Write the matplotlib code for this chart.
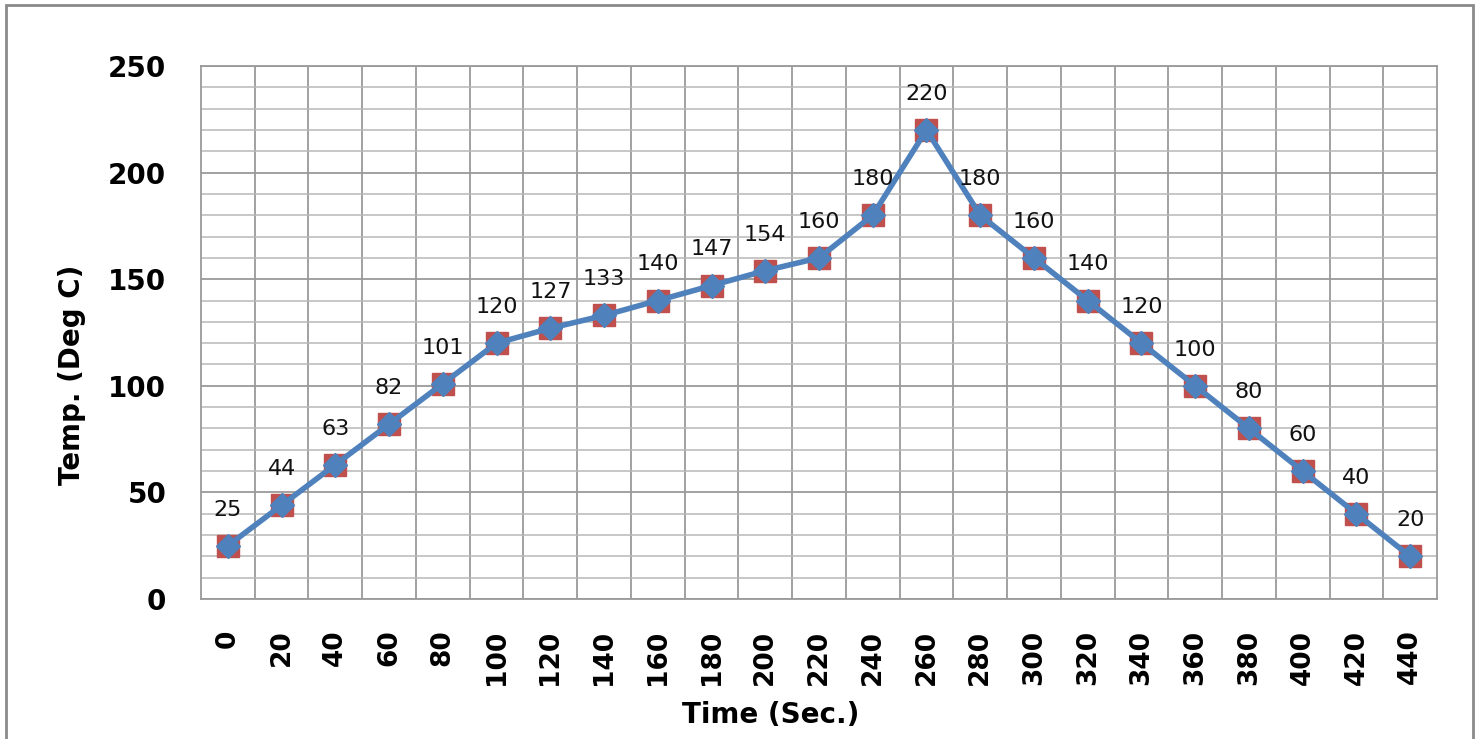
import matplotlib
matplotlib.use("Agg")
import matplotlib.pyplot as plt
from matplotlib.patches import Rectangle
from matplotlib.ticker import MultipleLocator, FixedLocator

time_labels = ["0", "20", "40", "60", "80", "100", "120", "140", "160", "180", "200",
               "220", "240", "260", "280", "300", "320", "340", "360", "380", "400",
               "420", "440"]
temps = [25, 44, 63, 82, 101, 120, 127, 133, 140, 147, 154, 160, 180, 220, 180,
         160, 140, 120, 100, 80, 60, 40, 20]

plt.rcParams['font.family'] = ['DejaVu Sans']

W, H = 1481, 739
fig = plt.figure(figsize=(W / 100, H / 100), dpi=100)
ax = fig.add_axes([201 / W, 1 - 599 / H, (1437 - 201) / W, (599 - 66) / H])

x = list(range(len(temps)))
ax.plot(x, temps, linestyle='none', marker='s', markersize=16,
        markerfacecolor='#C0504D', markeredgecolor='#C0504D', zorder=3)
ax.plot(x, temps, color='#4F81BD', linewidth=4, marker='D', markersize=12,
        markerfacecolor='#4F81BD', markeredgecolor='#4F81BD', zorder=4)

for xi, v in zip(x, temps):
    ax.annotate(str(v), (xi, v), xytext=(0, 26), textcoords='offset points',
                ha='center', va='center', fontsize=16, color='#111111', zorder=5)

ax.set_xlim(-0.5, len(temps) - 0.5)
ax.set_ylim(0, 250)
ax.set_xticks(x)
ax.set_xticklabels(time_labels, rotation=90, fontsize=19, fontweight='bold')
ax.xaxis.set_minor_locator(FixedLocator([i + 0.5 for i in range(len(temps) - 1)]))
ax.yaxis.set_major_locator(MultipleLocator(50))
ax.yaxis.set_minor_locator(MultipleLocator(10))
for lab in ax.get_yticklabels():
    lab.set_fontsize(20)
    lab.set_fontweight('bold')
ax.tick_params(axis='both', which='both', length=0)
ax.tick_params(axis='y', pad=25)
ax.tick_params(axis='x', pad=22)

ax.grid(False, which='major', axis='x')
ax.grid(True, which='minor', axis='x', color='#9a9a9a', linewidth=1.3)
ax.grid(True, which='major', axis='y', color='#9a9a9a', linewidth=1.3)
ax.grid(True, which='minor', axis='y', color='#b8b8b8', linewidth=1.1)
ax.set_axisbelow(True)
for s in ax.spines.values():
    s.set_color('#9a9a9a')
    s.set_linewidth(1.3)

ax.set_ylabel('Temp. (Deg C)', fontsize=20, fontweight='bold')
ax.yaxis.set_label_coords((72 - 201) / (1437 - 201), (599 - 375) / (599 - 66))
ax.yaxis.label.set_va('center')
ax.set_xlabel('Time (Sec.)', fontsize=20, fontweight='bold')
ax.xaxis.set_label_coords((771 - 201) / (1437 - 201), (599 - 715) / (599 - 66))
ax.xaxis.label.set_va('center')

frame = Rectangle((6 / W, -0.05), (1473 - 6) / W, 1.05 - 5 / H, transform=fig.transFigure,
                  fill=False, edgecolor='#8a8a8a', linewidth=2, clip_on=False)
fig.patches.append(frame)

fig.savefig('out.png', dpi=100)
